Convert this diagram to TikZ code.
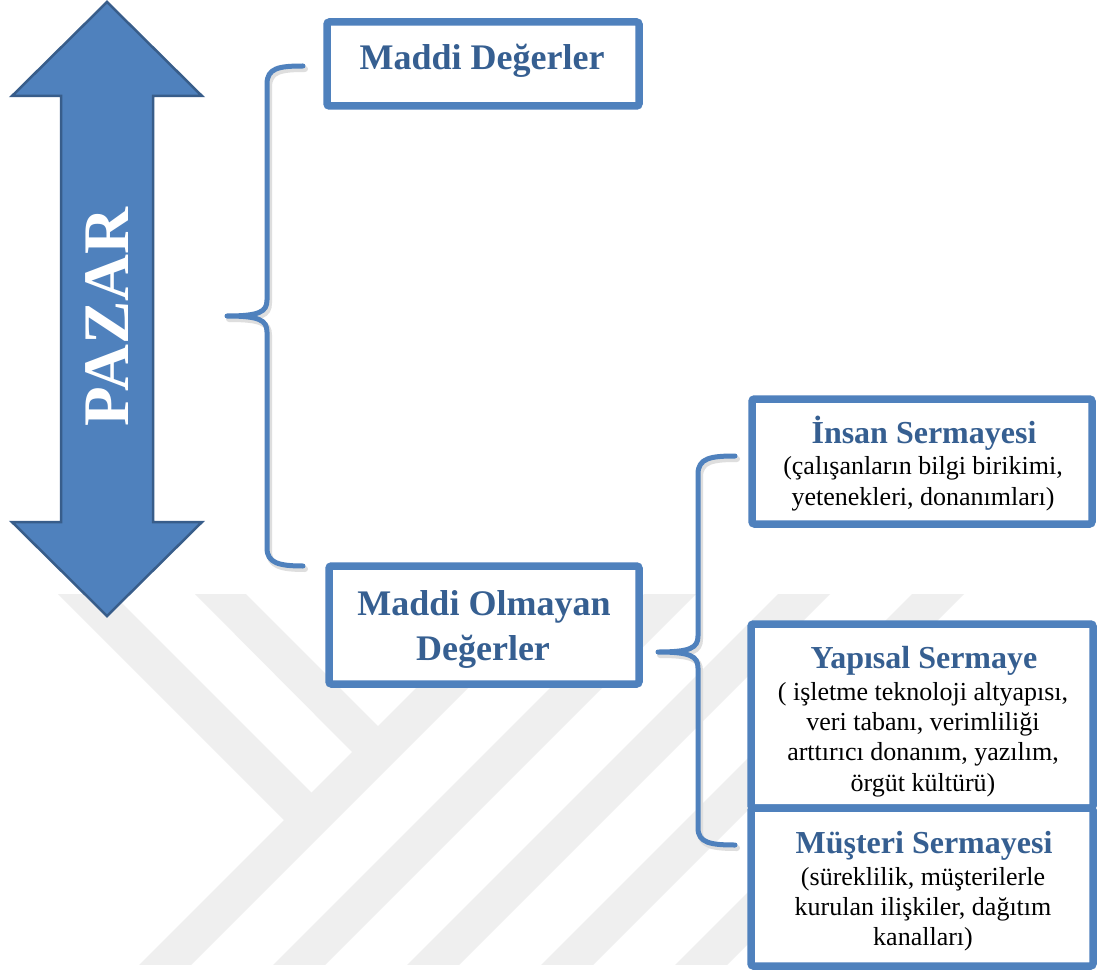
\documentclass[tikz,border=0pt]{standalone}
\usepackage{fontspec}
\setmainfont{Liberation Serif}
\definecolor{boxblue}{RGB}{79,129,189}
\definecolor{arrowdark}{RGB}{56,93,138}
\definecolor{headblue}{RGB}{54,95,145}
\definecolor{wmgray}{RGB}{239,239,239}
\begin{document}
\begin{tikzpicture}[x=1pt,y=-1pt,
  blbox/.style={draw=boxblue, line width=7.5pt, fill=white, rounded corners=2.5pt, inner sep=0pt},
  bracemain/.style={draw=boxblue, line width=5pt, line cap=round, line join=round},
  braceshade/.style={draw=black!13, line width=6pt, line cap=round, line join=round},
  bighead/.style={font=\fontsize{36}{43}\selectfont\bfseries, text=headblue, inner sep=0pt, anchor=base},
  head/.style={font=\fontsize{32}{38}\selectfont\bfseries, text=headblue, inner sep=0pt, anchor=base},
  body/.style={font=\fontsize{26}{31}\selectfont, text=black, inner sep=0pt, anchor=base},
  wm/.style={fill=wmgray, draw=none}
]
\useasboundingbox (0,0) rectangle (1097,976);
\fill[white] (0,0) rectangle (1097,976);

% watermark
\begin{scope}
\clip (0,594) rectangle (1000,964);
\foreach \k in {0,...,5}{
  \pgfmathsetmacro{\L}{1104+134*\k}
  \pgfmathsetmacro{\U}{\L+52}
  \fill[wm] ({\L-980},980) -- ({\U-980},980) -- ({\U-580},580) -- ({\L-580},580) -- cycle;
}
\fill[wm] (58,594) -- (113,594) -- (314,795) -- (287,823) -- cycle;
\fill[wm] (195,594) -- (246,594) -- (381,729) -- (355,755) -- cycle;
\end{scope}

% double arrow
\path[draw=arrowdark, line width=2.5pt, fill=boxblue, line join=miter]
  (107,2) -- (202,96) -- (153,96) -- (153,522) -- (202,522) -- (107,616)
  -- (12,522) -- (61,522) -- (61,96) -- (12,96) -- cycle;
\node[rotate=90, text=white, font=\fontsize{65}{70}\selectfont\bfseries, inner sep=0pt] (pazar) at (107,317) {PAZAR};

% brace 1
\begin{scope}[shift={(2,3)}]
\draw[braceshade] (303,66) .. controls (279,66) and (267,68) .. (267,84)
  -- (267,300) .. controls (267,312) and (259,316) .. (227,316)
  .. controls (259,316) and (267,320) .. (267,332)
  -- (267,548) .. controls (267,563) and (279,566) .. (303,566);
\end{scope}
\draw[bracemain] (303,66) .. controls (279,66) and (267,68) .. (267,84)
  -- (267,300) .. controls (267,312) and (259,316) .. (227,316)
  .. controls (259,316) and (267,320) .. (267,332)
  -- (267,548) .. controls (267,563) and (279,566) .. (303,566);

% brace 2
\begin{scope}[shift={(2,3)}]
\draw[braceshade] (735,456) .. controls (711,456) and (698,458) .. (698,474)
  -- (698,636) .. controls (698,648) and (690,652) .. (658,652)
  .. controls (690,652) and (698,656) .. (698,668)
  -- (698,828) .. controls (698,843) and (711,845) .. (735,845);
\end{scope}
\draw[bracemain] (735,456) .. controls (711,456) and (698,458) .. (698,474)
  -- (698,636) .. controls (698,648) and (690,652) .. (658,652)
  .. controls (690,652) and (698,656) .. (698,668)
  -- (698,828) .. controls (698,843) and (711,845) .. (735,845);

% boxes
\node[blbox, minimum width=312pt, minimum height=84pt] (md) at (483,64) {};
\node[blbox, minimum width=310pt, minimum height=118pt] (mod) at (484,625) {};
\node[blbox, minimum width=340pt, minimum height=125pt] (ins) at (922,461.5) {};
\node[blbox, minimum width=342pt, minimum height=184pt] (yap) at (922,716) {};
\node[blbox, minimum width=342pt, minimum height=158pt] (mus) at (922,887) {};

% texts
\node[bighead] (mdt) at (482,70) {Maddi Değerler};
\node[bighead] (modt1) at (484,615) {Maddi Olmayan};
\node[bighead] (modt2) at (483,660) {Değerler};

\node[head] (insh) at (924,443) {İnsan Sermayesi};
\node[body] (ins1) at (923,474) {(çalışanların bilgi birikimi,};
\node[body] (ins2) at (923,505) {yetenekleri, donanımları)};

\node[head] (yaph) at (924,668) {Yapısal Sermaye};
\node[body] (yap1) at (923,700) {( işletme teknoloji altyapısı,};
\node[body] (yap2) at (923,730) {veri tabanı, verimliliği};
\node[body] (yap3) at (923,760) {arttırıcı donanım, yazılım,};
\node[body] (yap4) at (923,791) {örgüt kültürü)};

\node[head] (mush) at (924,853) {Müşteri Sermayesi};
\node[body] (mus1) at (923,885) {(süreklilik, müşterilerle};
\node[body] (mus2) at (923,915) {kurulan ilişkiler, dağıtım};
\node[body] (mus3) at (923,945) {kanalları)};
\end{tikzpicture}
\end{document}
